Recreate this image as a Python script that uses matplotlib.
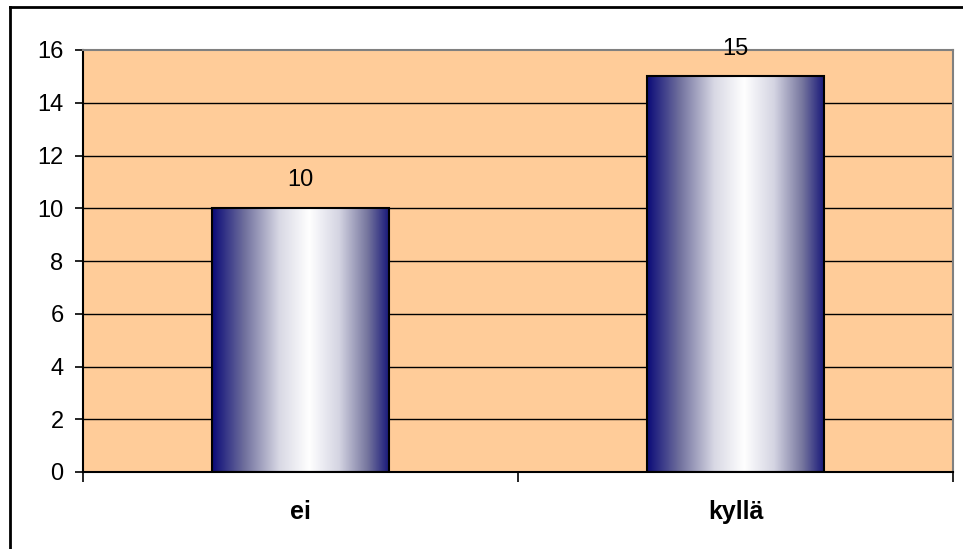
import matplotlib
matplotlib.use("Agg")
import matplotlib.pyplot as plt
import numpy as np
from matplotlib.colors import LinearSegmentedColormap
from matplotlib.lines import Line2D

# Data
categories = ["ei", "kyllä"]
values = [10, 15]
y_ticks = [0, 2, 4, 6, 8, 10, 12, 14, 16]

plt.rcParams["font.family"] = ["Liberation Sans", "DejaVu Sans"]

fig = plt.figure(figsize=(9.63, 5.49), dpi=100)
ax = fig.add_axes([83 / 963, 1 - 472 / 549, 870 / 963, 422 / 549])
ax.set_facecolor("#FFCC99")

# Frame lines on the left and top of the figure
fig.add_artist(Line2D([9.5 / 963, 9.5 / 963], [0, 1 - 7 / 549], transform=fig.transFigure,
                      color="black", lw=2))
fig.add_artist(Line2D([9.5 / 963, 1], [1 - 7 / 549, 1 - 7 / 549], transform=fig.transFigure,
                      color="black", lw=2))

x = np.arange(len(categories))

# Horizontal gridlines
for yv in y_ticks[1:-1]:
    ax.axhline(yv, color="black", lw=1, zorder=1)

# Navy-white-navy gradient for the bar faces
grad_cmap = LinearSegmentedColormap.from_list(
    "bar_grad",
    [(0.0, "#0B0B78"), (0.18, "#6E6E9C"), (0.38, "#D8D8E4"), (0.55, "#FFFFFF"),
     (0.72, "#D4D4E2"), (0.88, "#76769E"), (1.0, "#1A1A7A")])
gradient = np.linspace(0, 1, 256).reshape(1, -1)

bars = ax.bar(x, values, width=0.405, facecolor="none", edgecolor="black",
              linewidth=1.5, zorder=3)
for bar in bars:
    x0, w, h = bar.get_x(), bar.get_width(), bar.get_height()
    im = ax.imshow(gradient, cmap=grad_cmap, aspect="auto",
                   extent=[x0, x0 + w, 0, h], zorder=2, interpolation="bilinear")
    im.set_clip_path(bar)
ax.set_xlim(-0.5, len(categories) - 0.5)
ax.set_ylim(0, 16)

# Value labels
for xi, v in zip(x, values):
    ax.annotate(str(v), (xi, v), xytext=(0, 20), textcoords="offset points",
                ha="center", va="center", fontsize=17, zorder=4)

# Axes styling
for side in ("left", "bottom"):
    ax.spines[side].set_color("black")
    ax.spines[side].set_linewidth(1.5)
for side in ("top", "right"):
    ax.spines[side].set_color("#808080")
    ax.spines[side].set_linewidth(1.5)

ax.set_yticks(y_ticks)
ax.tick_params(axis="y", direction="out", length=6, width=1.2, labelsize=17, pad=8)

ax.set_xticks([-0.5, 0.5, 1.5])
ax.set_xticklabels([])
ax.tick_params(axis="x", which="major", direction="out", length=7, width=1.2)
ax.set_xticks(x, minor=True)
ax.set_xticklabels(categories, minor=True, fontsize=18, fontweight="bold")
ax.tick_params(axis="x", which="minor", length=0, pad=20)

fig.savefig("out.png", dpi=100)
